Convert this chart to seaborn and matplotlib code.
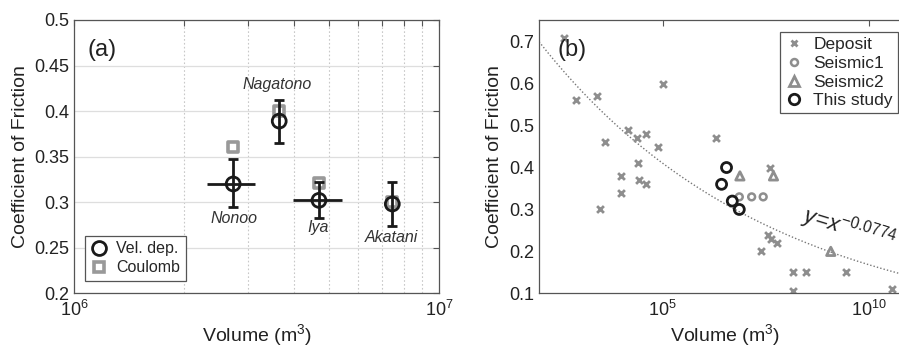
import numpy as np
import pandas as pd
import matplotlib
matplotlib.use("Agg")
import matplotlib.pyplot as plt
import seaborn as sns
from matplotlib.ticker import FixedLocator, NullFormatter, NullLocator, FuncFormatter
from matplotlib.lines import Line2D

# ---------------- data: panel (a) ----------------
site_names = ["Nonoo", "Nagatono", "Iya", "Akatani"]
site_volume = [2.73e6, 3.65e6, 4.69e6, 7.45e6]
vel_dep_mu = [0.320, 0.389, 0.302, 0.298]
vel_dep_mu_low = [0.295, 0.365, 0.283, 0.274]
vel_dep_mu_high = [0.347, 0.412, 0.322, 0.322]
volume_low = [2.32e6, 3.65e6, 3.99e6, 7.45e6]
volume_high = [3.14e6, 3.65e6, 5.41e6, 7.45e6]
coulomb_mu = [0.361, 0.400, 0.321, 0.300]

# ---------------- data: panel (b) ----------------
deposit_logvol = [2.61, 2.90, 3.40, 3.60, 3.48, 4.00, 4.00, 4.15, 4.375, 4.60,
                  4.40, 4.42, 4.60, 4.89, 5.00, 6.30, 7.60, 7.56, 7.62, 7.78,
                  7.39, 8.17, 8.49, 8.17, 9.46, 10.57]
deposit_mu = [0.71, 0.56, 0.57, 0.46, 0.30, 0.38, 0.34, 0.49, 0.47, 0.48,
              0.41, 0.37, 0.36, 0.45, 0.60, 0.47, 0.40, 0.24, 0.23, 0.22,
              0.20, 0.15, 0.15, 0.106, 0.15, 0.11]
seismic1_logvol = [6.86, 7.16, 7.44]
seismic1_mu = [0.33, 0.33, 0.33]
seismic2_logvol = [6.875, 7.69, 9.08]
seismic2_mu = [0.38, 0.38, 0.20]
study_logvol = [6.43, 6.55, 6.69, 6.86]
study_mu = [0.36, 0.40, 0.32, 0.30]
fit_exponent = -0.0774

# ---------------- style ----------------
sns.set_style("white")
plt.rcParams["font.family"] = ["Liberation Sans", "DejaVu Sans"]
plt.rcParams["mathtext.fontset"] = "custom"
plt.rcParams["mathtext.rm"] = "Liberation Sans"
plt.rcParams["mathtext.it"] = "Liberation Sans:italic"
plt.rcParams["mathtext.bf"] = "Liberation Sans:bold"

TXT = "#222222"
SPINE = "#555555"
GRAY = "#8e8e8e"

fig = plt.figure(figsize=(8.99, 3.5), dpi=100)
ax1 = fig.add_axes([0.0823, 0.162, 0.406, 0.781])
ax2 = fig.add_axes([0.5996, 0.162, 0.4125, 0.781])


def sci_fmt(v, pos):
    e = int(round(np.log10(v)))
    return r"$10^{%d}$" % e


for ax in (ax1, ax2):
    ax.set_xscale("log")
    for s in ax.spines.values():
        s.set_color(SPINE)
        s.set_linewidth(0.9)
    ax.tick_params(which="both", direction="in", top=True, right=True,
                   labelsize=13, colors=SPINE, labelcolor=TXT, length=4, width=0.8)
    ax.tick_params(axis="x", pad=5)

# ---------------- panel (a) ----------------
dfa = pd.DataFrame({"volume": site_volume, "vel": vel_dep_mu, "coul": coulomb_mu,
                    "name": site_names})
ax1.set_xlim(1e6, 1e7)
ax1.set_ylim(0.2, 0.5)
ax1.xaxis.set_major_locator(FixedLocator([1e6, 1e7]))
ax1.xaxis.set_major_formatter(FuncFormatter(sci_fmt))
ax1.xaxis.set_minor_locator(FixedLocator([k * 1e6 for k in range(2, 10)]))
ax1.xaxis.set_minor_formatter(NullFormatter())
ax1.set_yticks([0.2, 0.25, 0.3, 0.35, 0.4, 0.45, 0.5])
ax1.set_yticklabels(["0.2", "0.25", "0.3", "0.35", "0.4", "0.45", "0.5"])
ax1.grid(axis="y", which="major", color="#dedede", lw=0.9, ls="-")
ax1.grid(axis="x", which="minor", color="#c8c8c8", lw=0.8, ls=(0, (1.5, 2)))
ax1.set_axisbelow(True)

sns.scatterplot(data=dfa, x="volume", y="coul", ax=ax1, marker="s", s=55,
                facecolor="white", edgecolor="#999999", linewidth=2.6, zorder=2,
                legend=False)

xerr = [np.array(site_volume) - np.array(volume_low),
        np.array(volume_high) - np.array(site_volume)]
yerr = [np.array(vel_dep_mu) - np.array(vel_dep_mu_low),
        np.array(vel_dep_mu_high) - np.array(vel_dep_mu)]
ax1.errorbar(site_volume, vel_dep_mu, yerr=yerr, fmt="none", ecolor="#1a1a1a",
             elinewidth=2.0, capsize=3.5, capthick=2.0, zorder=3)
ax1.errorbar(site_volume, vel_dep_mu, xerr=xerr, fmt="none", ecolor="#1a1a1a",
             elinewidth=2.0, capsize=0, zorder=3)
sns.scatterplot(data=dfa, x="volume", y="vel", ax=ax1, marker="o", s=100,
                facecolor="none", edgecolor="#1a1a1a", linewidth=2.0, zorder=4,
                legend=False)

label_pos = {"Nagatono": (3.61e6, 0.4287), "Nonoo": (2.75e6, 0.282),
             "Iya": (4.65e6, 0.272), "Akatani": (7.43e6, 0.2615)}
for nm in site_names:
    lx, ly = label_pos[nm]
    ax1.text(lx, ly, nm, fontsize=11.5, style="italic", color="#333333",
             ha="center", va="center")

ax1.text(0.076, 0.89, "(a)", transform=ax1.transAxes, fontsize=17, color=TXT,
         ha="center", va="center")
ax1.set_xlabel("Volume (m$^{3}$)", fontsize=14, color=TXT, labelpad=1)
ax1.set_ylabel("Coefficient of Friction", fontsize=14, color=TXT, labelpad=4)

h_a = [Line2D([], [], ls="none", marker="o", ms=10, mfc="none", mec="#1a1a1a", mew=2.0),
       Line2D([], [], ls="none", marker="s", ms=7.5, mfc="white", mec="#999999", mew=2.6)]
leg_a = ax1.legend(h_a, ["Vel. dep.", "Coulomb"], loc="lower left",
                   bbox_to_anchor=(85 / 899, 1 - 281 / 350), bbox_transform=fig.transFigure,
                   borderaxespad=0, fontsize=11.5, frameon=True, fancybox=False,
                   framealpha=1, edgecolor="#555555", handlelength=1.0,
                   handletextpad=0.6, borderpad=0.35, labelspacing=0.25)
leg_a.get_frame().set_linewidth(0.9)

# ---------------- panel (b) ----------------
ax2.set_xlim(1e2, 1e11)
ax2.set_ylim(0.1, 0.752)
ax2.xaxis.set_major_locator(FixedLocator([1e5, 1e10]))
ax2.xaxis.set_major_formatter(FuncFormatter(sci_fmt))
ax2.xaxis.set_minor_locator(NullLocator())
ax2.set_yticks([0.1, 0.2, 0.3, 0.4, 0.5, 0.6, 0.7])
ax2.set_yticklabels(["0.1", "0.2", "0.3", "0.4", "0.5", "0.6", "0.7"])
ax2.grid(False)

fit_x = np.logspace(2, 11, 300)
dff = pd.DataFrame({"v": fit_x, "mu": fit_x ** fit_exponent})
sns.lineplot(data=dff, x="v", y="mu", ax=ax2, color="#777777", lw=1.0,
             ls=(0, (1, 1.5)), zorder=1)

dfd = pd.DataFrame({"v": 10 ** np.array(deposit_logvol), "mu": deposit_mu})
dfs1 = pd.DataFrame({"v": 10 ** np.array(seismic1_logvol), "mu": seismic1_mu})
dfs2 = pd.DataFrame({"v": 10 ** np.array(seismic2_logvol), "mu": seismic2_mu})
dfst = pd.DataFrame({"v": 10 ** np.array(study_logvol), "mu": study_mu})

sns.scatterplot(data=dfd, x="v", y="mu", ax=ax2, marker="x", s=24,
                color=GRAY, linewidth=2.0, zorder=2, legend=False)
sns.scatterplot(data=dfs1, x="v", y="mu", ax=ax2, marker="o", s=24,
                facecolor="none", edgecolor=GRAY, linewidth=1.8, zorder=2, legend=False)
sns.scatterplot(data=dfs2, x="v", y="mu", ax=ax2, marker="^", s=36,
                facecolor="none", edgecolor=GRAY, linewidth=2.0, zorder=2, legend=False)
sns.scatterplot(data=dfst, x="v", y="mu", ax=ax2, marker="o", s=52,
                facecolor="none", edgecolor="#1a1a1a", linewidth=2.0, zorder=3, legend=False)

ax2.text(10 ** 9.51, 0.254, r"$y\!=\!x^{-0.0774}$", fontsize=16, color=TXT,
         rotation=-17, ha="center", va="center", rotation_mode="anchor")
ax2.text(0.088, 0.89, "(b)", transform=ax2.transAxes, fontsize=17, color=TXT,
         ha="center", va="center")
ax2.set_xlabel("Volume (m$^{3}$)", fontsize=14, color=TXT, labelpad=1)
ax2.set_ylabel("Coefficient of Friction", fontsize=14, color=TXT, labelpad=4)

h_b = [Line2D([], [], ls="none", marker="x", ms=5, color=GRAY, mew=2.0),
       Line2D([], [], ls="none", marker="o", ms=5.0, mfc="none", mec=GRAY, mew=1.8),
       Line2D([], [], ls="none", marker="^", ms=6.5, mfc="none", mec=GRAY, mew=2.0),
       Line2D([], [], ls="none", marker="o", ms=7.5, mfc="none", mec="#1a1a1a", mew=2.0)]
leg_b = ax2.legend(h_b, ["Deposit", "Seismic1", "Seismic2", "This study"],
                   loc="upper right", bbox_to_anchor=(898 / 899, 1 - 32 / 350),
                   bbox_transform=fig.transFigure, borderaxespad=0, fontsize=12.5,
                   frameon=True, fancybox=False, framealpha=1, edgecolor="#555555",
                   handlelength=1.0, handletextpad=0.6, borderpad=0.3, labelspacing=0.2)
leg_b.get_frame().set_linewidth(0.9)

fig.savefig("out.png", dpi=100)
